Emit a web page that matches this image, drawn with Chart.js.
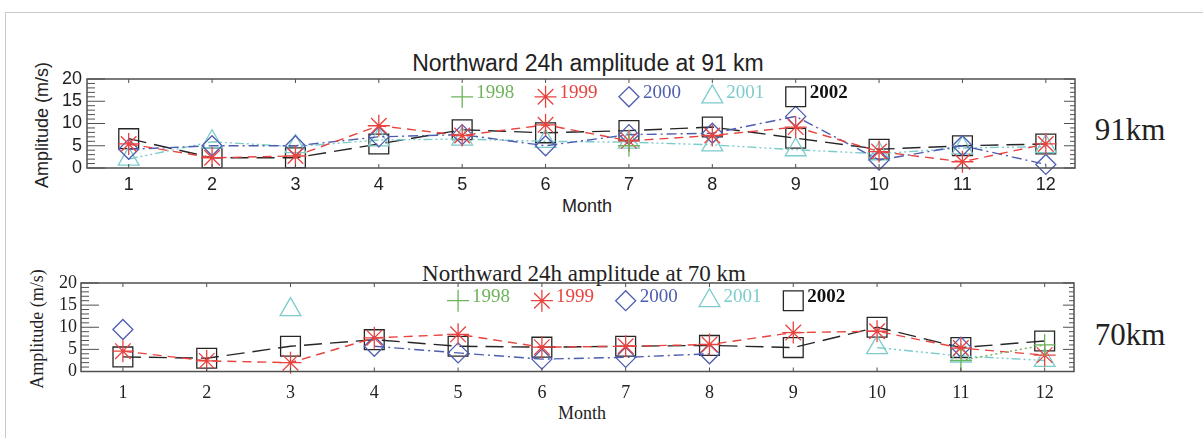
<!DOCTYPE html>
<html>
<head>
<meta charset="utf-8">
<script src="https://cdn.jsdelivr.net/npm/chart.js@4.4.1/dist/chart.umd.min.js"></script>
<style>
  body { margin: 0; background: #fff; width: 1203px; height: 438px; overflow: hidden; position: relative; }
  #frame { position: absolute; left: 5px; top: 12px; width: 1300px; height: 600px; border: 1.5px solid #c9c9c9; box-sizing: border-box; }
  canvas { position: absolute; left: 0; }
  .t { position: absolute; white-space: nowrap; color: #222; line-height: 1; transform: translate(-50%, -50%); }
  .sans { font-family: "Liberation Sans", Arial, sans-serif; }
  .serif { font-family: "Liberation Serif", "Times New Roman", serif; }
  .rot { transform: translate(-50%, -50%) rotate(-90deg); }
</style>
</head>
<body>
<div id="frame"></div>

<div class="t sans" style="left:588px; top:63px; font-size:23px;">Northward 24h amplitude at 91 km</div>
<div class="t sans rot" style="left:42px; top:125px; font-size:18px;">Amplitude (m/s)</div>
<div class="t sans" style="left:587px; top:206px; font-size:18px;">Month</div>
<div class="t serif" style="left:1130px; top:129px; font-size:31px;">91km</div>

<div class="t serif" style="left:584px; top:273px; font-size:23px;">Northward 24h amplitude at 70 km</div>
<div class="t serif rot" style="left:37px; top:329px; font-size:18px;">Amplitude (m/s)</div>
<div class="t serif" style="left:582px; top:413px; font-size:18px;">Month</div>
<div class="t serif" style="left:1130px; top:334px; font-size:31px;">70km</div>

<canvas id="chart91" width="1203" height="150" style="top:40px"></canvas>
<canvas id="chart70" width="1203" height="150" style="top:250px"></canvas>

<script>
// months on the x axis, ticks on the y axis
const months = [1, 2, 3, 4, 5, 6, 7, 8, 9, 10, 11, 12];
const yTicks = [0, 5, 10, 15, 20];
const years = ['1998', '1999', '2000', '2001', '2002'];

// 91 km amplitudes (m/s), null = no data that month
const amp91_1998 = [null, null, null, null, null, null, 5.0, null, null, null, null, null];
const amp91_1999 = [5.4, 2.3, 2.7, 9.5, 7.3, 9.7, 6.1, 7.3, 9.2, 3.7, 1.4, 5.4];
const amp91_2000 = [4.2, 5.0, 5.0, 7.0, 7.5, 5.0, 7.5, 7.8, 11.6, 1.8, 5.0, 0.8];
const amp91_2001 = [2.0, 5.9, 4.8, 6.3, 6.5, 6.0, 5.8, 5.2, 4.1, 3.2, 4.5, 4.8];
const amp91_2002 = [6.6, 2.3, 2.3, 5.4, 8.6, 7.9, 8.4, 9.2, 6.7, 4.2, 5.0, 5.4];

// 70 km amplitudes (m/s)
const amp70_1998 = [null, null, null, null, null, null, null, null, null, null, 2.5, 6.0];
const amp70_1999 = [4.6, 2.4, 2.0, 7.6, 8.4, 5.5, 5.7, 6.1, 8.8, 9.1, 5.3, 3.7];
const amp70_2000 = [9.5, null, null, 5.7, 4.2, 2.8, 3.2, 4.0, null, null, 5.5, null];
const amp70_2001 = [null, null, 14.0, null, null, null, null, null, null, 5.4, 3.5, 2.5];
const amp70_2002 = [3.3, 3.0, 5.7, 7.2, 5.7, 5.5, 5.7, 5.9, 5.4, 10.0, 5.4, 6.9];

// line / symbol style per year (IDL psym + linestyle look)
const yearStyle = {
  '1998': { color: '#6cb35a', point: 'cross',    r: 11, dash: [2, 3] },
  '1999': { color: '#e8433f', point: 'star',     r: 11, dash: [9, 6] },
  '2000': { color: '#4d5db0', point: 'rectRot',  r: 10, dash: [10, 4, 2, 4] },
  '2001': { color: '#7ccccc', point: 'triangle', r: 12, dash: [9, 3, 2, 3, 2, 3, 2, 3] },
  '2002': { color: '#262626', point: 'rect',     r: 14, dash: [18, 8] }
};

function makeDatasets(seriesList) {
  return years.map((yr, i) => {
    const s = yearStyle[yr];
    return {
      label: yr,
      data: months.map((m, j) => ({ x: m, y: seriesList[i][j] })),
      borderColor: s.color,
      borderWidth: 1.4,
      borderDash: s.dash,
      pointStyle: s.point,
      pointRadius: s.r,
      pointBorderColor: s.color,
      pointBackgroundColor: 'rgba(0,0,0,0)',
      pointBorderWidth: 1.3,
      spanGaps: false,
      clip: false,
      tension: 0
    };
  });
}

// small symbol drawer for the in-plot legend
function drawSymbol(ctx, style, x, y, r) {
  ctx.beginPath();
  if (style === 'cross') {
    ctx.moveTo(x - r, y); ctx.lineTo(x + r, y);
    ctx.moveTo(x, y - r); ctx.lineTo(x, y + r);
  } else if (style === 'star') {
    for (let k = 0; k < 4; k++) {
      const a = k * Math.PI / 4;
      ctx.moveTo(x - r * Math.cos(a), y - r * Math.sin(a));
      ctx.lineTo(x + r * Math.cos(a), y + r * Math.sin(a));
    }
  } else if (style === 'rectRot') {
    ctx.moveTo(x, y - r); ctx.lineTo(x + r, y); ctx.lineTo(x, y + r); ctx.lineTo(x - r, y); ctx.closePath();
  } else if (style === 'triangle') {
    for (let k = 0; k < 3; k++) {
      const a = k * 2 * Math.PI / 3;
      const px = x + Math.sin(a) * r, py = y - Math.cos(a) * r;
      if (k === 0) ctx.moveTo(px, py); else ctx.lineTo(px, py);
    }
    ctx.closePath();
  } else {
    const h = r * Math.SQRT1_2;
    ctx.rect(x - h, y - h, 2 * h, 2 * h);
  }
  ctx.stroke();
}

// IDL style box: frame, inward ticks, legend inside the plot
const idlBox = {
  id: 'idlBox',
  afterDatasetsDraw(chart, args, opts) {
    const { ctx, chartArea: a, scales: { x, y } } = chart;
    ctx.save();
    ctx.setLineDash([]);
    ctx.strokeStyle = '#505050';
    ctx.lineWidth = 1.5;
    ctx.strokeRect(a.left, a.top, a.right - a.left, a.bottom - a.top);

    ctx.lineWidth = 1;
    ctx.beginPath();
    for (let v = 0; v <= 20; v++) {
      const py = y.getPixelForValue(v);
      const major = v % 5 === 0;
      ctx.moveTo(a.left, py); ctx.lineTo(a.left + (major ? 18 : 8), py);
      ctx.moveTo(a.right, py); ctx.lineTo(a.right - (major ? 11 : 5), py);
    }
    months.forEach(m => {
      const px = x.getPixelForValue(m);
      ctx.moveTo(px, a.top); ctx.lineTo(px, a.top + 4);
      ctx.moveTo(px, a.bottom); ctx.lineTo(px, a.bottom - 4);
    });
    ctx.stroke();

    // legend: symbol at month 5..9, label to its right
    ctx.lineWidth = 1.3;
    years.forEach((yr, i) => {
      const s = yearStyle[yr];
      const px = x.getPixelForValue(5 + i);
      const py = y.getPixelForValue(16);
      ctx.strokeStyle = s.color;
      drawSymbol(ctx, s.point, px, py, s.r);
      ctx.fillStyle = yr === '2002' ? '#111' : s.color;
      ctx.font = (yr === '2002' ? 'bold ' : '') + '19px "Liberation Serif", serif';
      ctx.textBaseline = 'alphabetic';
      ctx.textAlign = 'left';
      ctx.fillText(yr, px + 14, py + 1);
    });
    ctx.restore();
  }
};

function makeChart(id, seriesList, geo) {
  const tickFont = { family: geo.font, size: 18 };
  return new Chart(document.getElementById(id), {
    type: 'line',
    data: { datasets: makeDatasets(seriesList) },
    options: {
      responsive: false,
      animation: false,
      devicePixelRatio: 1,
      layout: { padding: { left: 0, top: geo.top, right: geo.right, bottom: 0 } },
      plugins: { legend: { display: false }, tooltip: { enabled: false } },
      scales: {
        x: {
          type: 'linear', min: 0.5, max: 12.35,
          grid: { display: false, drawTicks: false },
          border: { display: false },
          ticks: { color: '#222', font: tickFont, padding: geo.xPad, maxRotation: 0, autoSkip: false },
          afterBuildTicks: s => { s.ticks = months.map(v => ({ value: v })); },
          afterFit: s => { s.height = geo.xHeight; }
        },
        y: {
          min: 0, max: 20,
          grid: { display: false, drawTicks: false },
          border: { display: false },
          ticks: { color: '#222', font: tickFont, padding: geo.yPad, autoSkip: false },
          afterBuildTicks: s => { s.ticks = yTicks.map(v => ({ value: v })); },
          afterFit: s => { s.width = geo.left; }
        }
      }
    },
    plugins: [idlBox]
  });
}

makeChart('chart91', [amp91_1998, amp91_1999, amp91_2000, amp91_2001, amp91_2002],
  { font: '"Liberation Sans", Arial, sans-serif', top: 39, right: 128, left: 87, xHeight: 22, xPad: 6, yPad: 5 });
makeChart('chart70', [amp70_1998, amp70_1999, amp70_2000, amp70_2001, amp70_2002],
  { font: '"Liberation Serif", "Times New Roman", serif', top: 33, right: 129, left: 81, xHeight: 28.5, xPad: 11, yPad: 4 });
</script>
</body>
</html>
